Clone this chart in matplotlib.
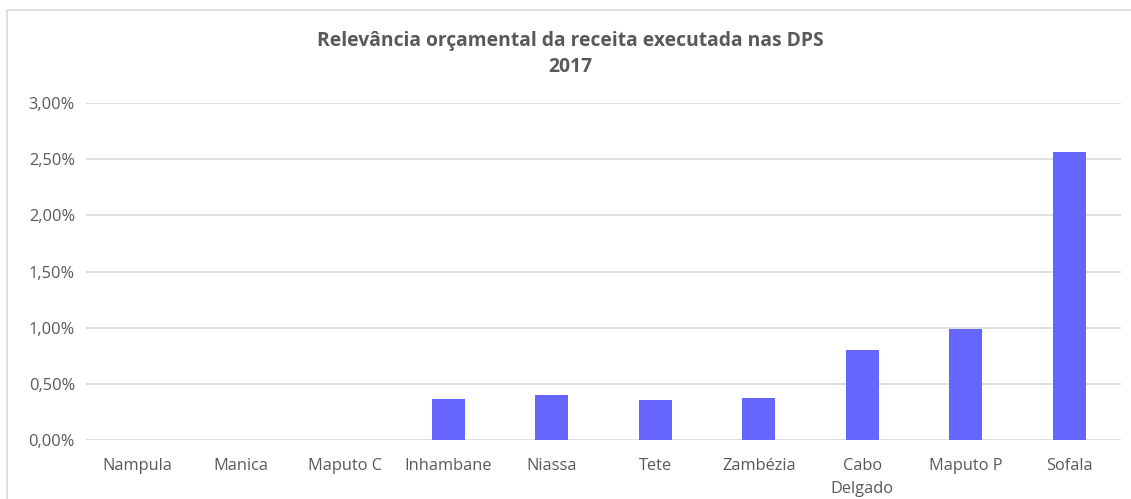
import matplotlib.pyplot as plt
from matplotlib.patches import Rectangle
from matplotlib.ticker import FuncFormatter

# Data
provinces = ["Nampula", "Manica", "Maputo C", "Inhambane", "Niassa",
             "Tete", "Zambézia", "Cabo\nDelgado", "Maputo P", "Sofala"]
relevance = [0.0, 0.0, 0.0, 0.365, 0.40, 0.36, 0.37, 0.80, 0.99, 2.56]  # percent
y_ticks = [0.0, 0.5, 1.0, 1.5, 2.0, 2.5, 3.0]

TEXT = "#595959"
GRID = "#d9d9d9"
BAR = "#6666ff"

plt.rcParams['font.family'] = ['Open Sans', 'DejaVu Sans']

fig = plt.figure(figsize=(11.31, 4.99), dpi=100)
ax = fig.add_axes([86 / 1131, 1 - 440 / 499, 1035 / 1131, 337 / 499])

x = range(len(provinces))
ax.bar(x, relevance, width=0.32, color=BAR, zorder=3)

ax.set_xlim(-0.5, len(provinces) - 0.5)
ax.set_ylim(0, 3.0)
ax.set_yticks(y_ticks)
ax.yaxis.set_major_formatter(FuncFormatter(lambda v, p: f"{v:.2f}%".replace(".", ",")))
ax.set_xticks(list(x))
ax.set_xticklabels(provinces, color=TEXT, fontsize=11.8, linespacing=1.55)
ax.tick_params(axis='y', colors=TEXT, labelsize=11.8, length=0, pad=8)
ax.tick_params(axis='x', length=0, pad=13)
for lab in ax.get_xticklabels():
    lab.set_verticalalignment('top')

ax.grid(axis='y', color=GRID, linewidth=1.2, zorder=0)
for s in ax.spines.values():
    s.set_visible(False)

fig.text(0.5045, 1 - 54 / 499, "Relevância orçamental da receita executada nas DPS\n2017",
         ha='center', va='center', fontsize=13.9, fontweight='bold', color=TEXT,
         linespacing=1.45)

# outer chart border
fig.patches.append(Rectangle((7 / 1131, -0.01), 1.5, 1 - 10 / 499 + 0.01,
                             transform=fig.transFigure, fill=False,
                             edgecolor=GRID, linewidth=1.2))

fig.savefig("out.png", dpi=100)
